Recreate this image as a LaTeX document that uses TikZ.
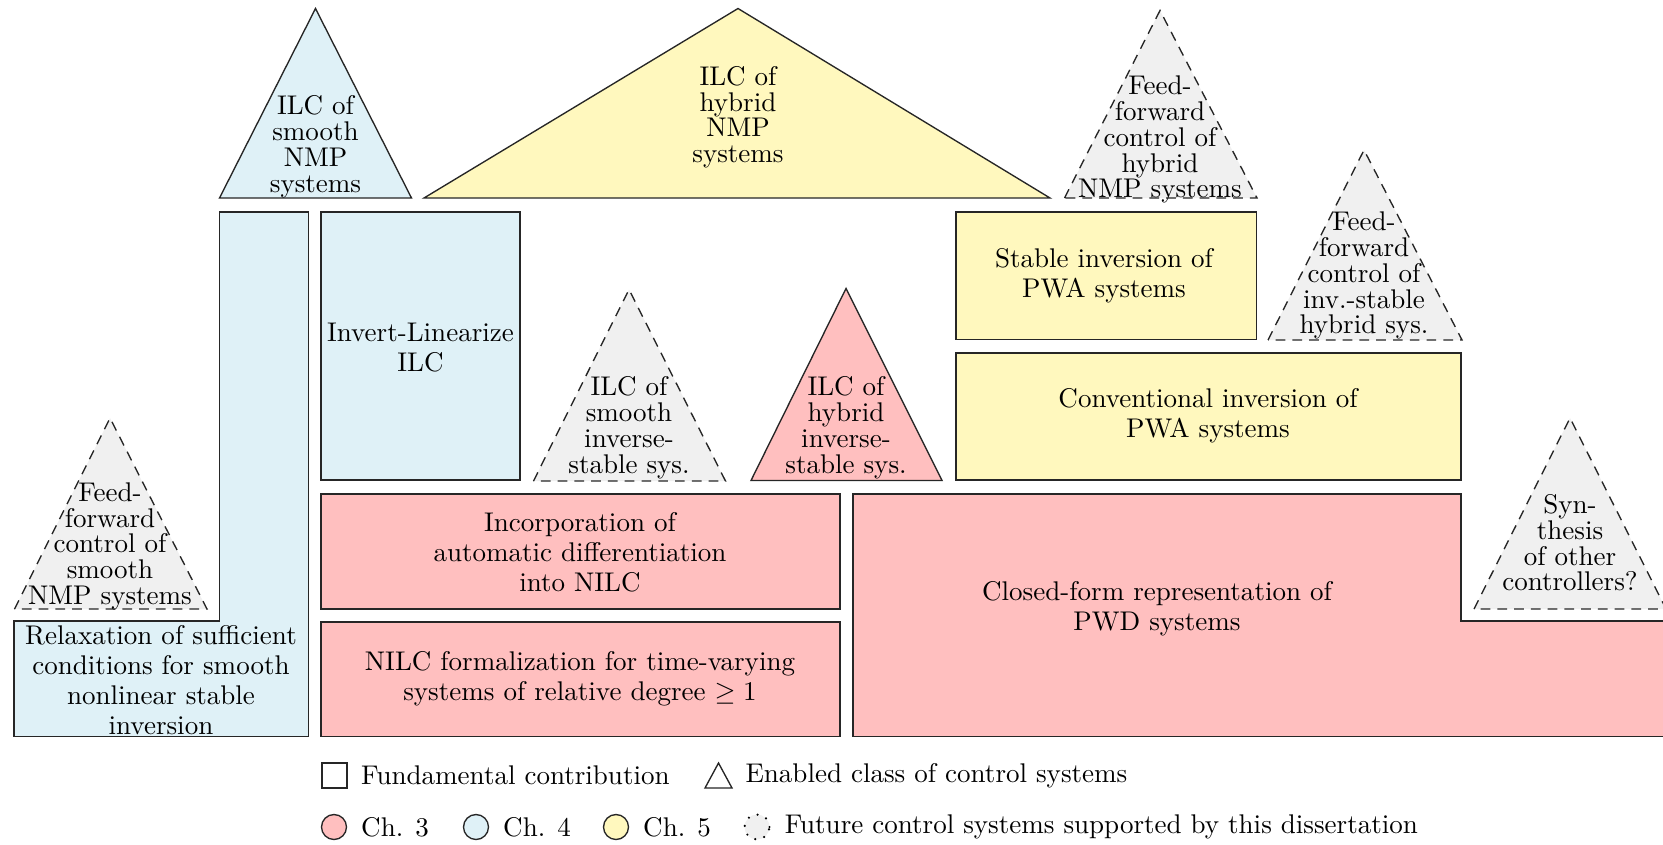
\documentclass[tikz,border=0pt]{standalone}
\usepackage{amsmath,amssymb}
\usepackage{xcolor}
\usepackage{tikz}
\usetikzlibrary{positioning}
\definecolor{chthree}{RGB}{255,191,191}
\definecolor{chfour}{RGB}{223,241,247}
\definecolor{chfive}{RGB}{255,248,190}
\definecolor{future}{RGB}{240,240,240}
\tikzset{
  block/.style={draw=black!85, line width=.5pt},
  klass/.style={draw=black!85, line width=.5pt},
  futr/.style={klass, fill=future, dash pattern=on 3.6pt off 2.6pt},
  btext/.style={align=center, inner sep=0pt, yshift=-.3pt, font=\fontsize{10}{11.1}\selectfont},
  ttext/.style={align=center, inner sep=0pt, yshift=-1pt, font=\fontsize{10}{9.55}\selectfont},
  legtext/.style={anchor=west, inner sep=0pt},
  legsq/.style={draw=black!85, line width=.5pt, minimum size=9.25pt, inner sep=0pt},
  legdot/.style={circle, draw=black!85, line width=.5pt, minimum size=9.25pt, inner sep=0pt}
}

\begin{document}
\begin{tikzpicture}[x=0.37pt, y=-0.37pt]
        \useasboundingbox (0,0) rectangle (1663,844);
        \clip (0,0) rectangle (1663,844);

        \draw[block, fill=chfour] (14,621) -- (219.5,621) -- (219.5,212) -- (308.5,212) -- (308.5,736.5) -- (14,736.5) -- cycle;
        \node[btext] (relax) at (161,679) {Relaxation of sufficient\\conditions for smooth\\nonlinear stable\\inversion};
        \draw[block, fill=chfour] (321,212) rectangle (520,480);
        \node[btext] (invlin) at (420.5,347) {Invert-Linearize\\ILC};

        \draw[block, fill=chthree] (321,494) rectangle (840,609);
        \node[btext] (autodiff) at (580,551.5) {Incorporation of\\automatic differentiation\\into NILC};
        \draw[block, fill=chthree] (321,622) rectangle (840,736.5);
        \node[btext] (nilctv) at (580,678) {NILC formalization for time-varying\\systems of relative degree $\geq 1$};
        \draw[block, fill=chthree] (853,494) -- (1461,494) -- (1461,621) -- (1680,621) -- (1680,736.5) -- (853,736.5) -- cycle;
        \node[btext] (closedform) at (1157,608) {Closed-form representation of\\PWD systems};

        \draw[block, fill=chfive] (956,212) rectangle (1256.5,339.5);
        \node[btext] (stabinv) at (1104,275) {Stable inversion of\\PWA systems};
        \draw[block, fill=chfive] (956,353) rectangle (1461,480);
        \node[btext] (convinv) at (1208,415) {Conventional inversion of\\PWA systems};

        \draw[klass, fill=chfour] (219.5,198) -- (315.5,8.5) -- (411.5,198) -- cycle;
        \node[ttext] (ilcsmooth) at (315.5,144) {ILC of\\smooth\\NMP\\systems};
        \draw[klass, fill=chfive] (424,198) -- (738,8.5) -- (1050,198) -- cycle;
        \node[ttext] (ilchyb) at (738,114.5) {ILC of\\hybrid\\NMP\\systems};
        \draw[klass, fill=chthree] (751,480.5) -- (846,288.5) -- (942,480.5) -- cycle;
        \node[ttext] (ilchis) at (846,425) {ILC of\\hybrid\\inverse-\\stable sys.};

        \draw[futr] (1064.5,198) -- (1160,10.5) -- (1257,198) -- cycle;
        \node[ttext] (ffhyb) at (1160,137) {Feed-\\forward\\control of\\hybrid\\NMP systems};
        \draw[futr] (1268,340) -- (1364,150) -- (1462,340) -- cycle;
        \node[ttext] (ffinv) at (1364,273) {Feed-\\forward\\control of\\inv.-stable\\hybrid sys.};
        \draw[futr] (533.5,481) -- (629,289.5) -- (725.5,481) -- cycle;
        \node[ttext] (ilcsis) at (629,425) {ILC of\\smooth\\inverse-\\stable sys.};
        \draw[futr] (14.5,609) -- (110,418) -- (207,609) -- cycle;
        \node[ttext] (ffsmooth) at (110,543.5) {Feed-\\forward\\control of\\smooth\\NMP systems};
        \draw[futr] (1474,609) -- (1570,418) -- (1666,609) -- cycle;
        \node[ttext] (synth) at (1570,540) {Syn-\\thesis\\of other\\controllers?};

        \node[legsq] (lbox) at (334.5,775.5) {};
        \node[legtext, right=4.8pt of lbox] (lfund) {Fundamental contribution};
        \draw[klass, fill=white] (705,788) -- (718.5,763) -- (732,788) -- cycle;
        \node[legtext] (lenab) at (745,775.5) {Enabled class of control systems};

        \node[legdot, fill=chthree] (lch3) at (334,827) {};
        \node[legtext, right=5pt of lch3] (tch3) {Ch. 3};
        \node[legdot, fill=chfour] (lch4) at (476,827) {};
        \node[legtext, right=5pt of lch4] (tch4) {Ch. 4};
        \node[legdot, fill=chfive] (lch5) at (616,827) {};
        \node[legtext, right=5pt of lch5] (tch5) {Ch. 5};
        \node[legdot, fill=future, draw=black, line width=.9pt, line cap=round, dash pattern=on 0pt off 3.5pt] (lfut) at (757,827) {};
        \node[legtext, right=5pt of lfut] (tfut) {Future control systems supported by this dissertation};
      \end{tikzpicture}
\end{document}
